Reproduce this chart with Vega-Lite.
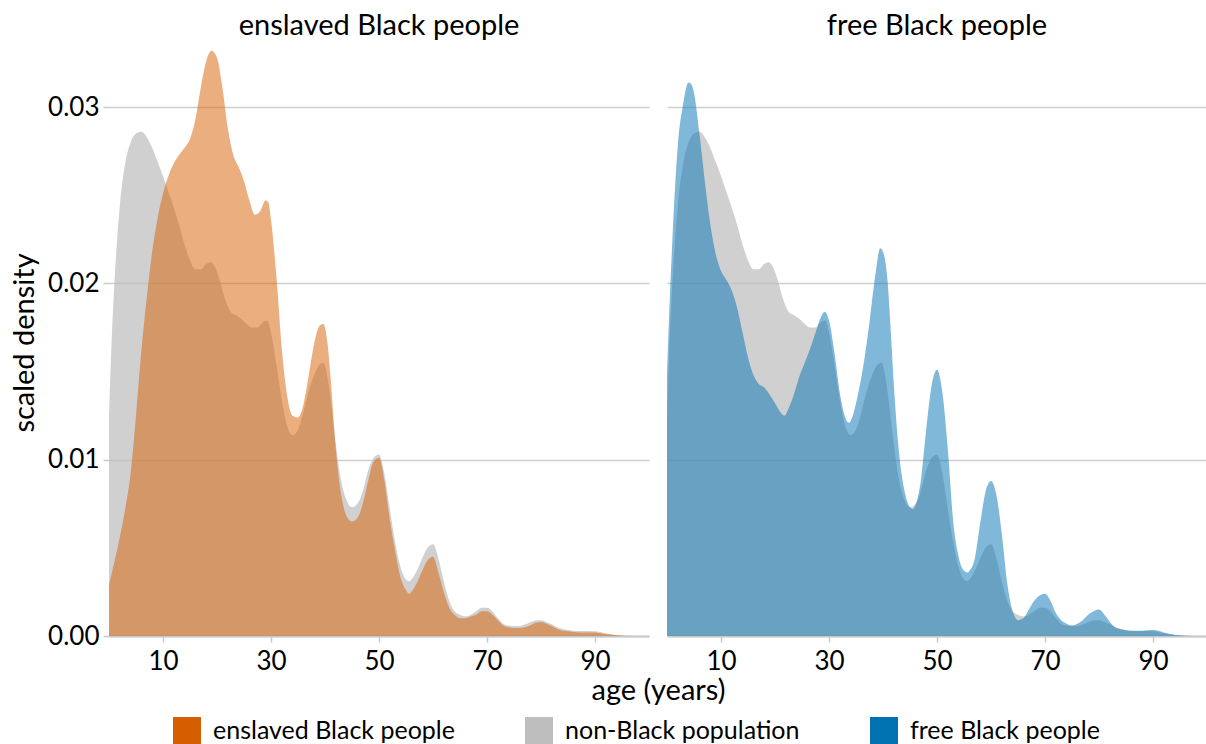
{
  "$schema": "https://vega.github.io/schema/vega-lite/v6.json",
  "background": "white",
  "padding": {"left": 10, "top": 12, "right": 0, "bottom": 0},
  "bounds": "flush",
  "datasets": {
    "nonBlack": [
      {"age": 0, "density": 0.0125}, {"age": 0.5, "density": 0.0168}, {"age": 1, "density": 0.02}, {"age": 1.5, "density": 0.0225},
      {"age": 2, "density": 0.0244}, {"age": 3, "density": 0.0268}, {"age": 4, "density": 0.028}, {"age": 5, "density": 0.0285},
      {"age": 6, "density": 0.0286}, {"age": 7, "density": 0.0283}, {"age": 8, "density": 0.0277}, {"age": 9, "density": 0.0269},
      {"age": 10, "density": 0.0261}, {"age": 11, "density": 0.0252}, {"age": 12, "density": 0.0243}, {"age": 13, "density": 0.0233},
      {"age": 14, "density": 0.0222}, {"age": 15, "density": 0.0213}, {"age": 16, "density": 0.0208}, {"age": 17, "density": 0.0208},
      {"age": 18, "density": 0.0211}, {"age": 18.8, "density": 0.0212}, {"age": 19.5, "density": 0.021}, {"age": 20.5, "density": 0.0202},
      {"age": 21.5, "density": 0.0191}, {"age": 22.5, "density": 0.0184}, {"age": 23.5, "density": 0.0182}, {"age": 24.5, "density": 0.018},
      {"age": 25.5, "density": 0.0177}, {"age": 26.5, "density": 0.0175}, {"age": 27.5, "density": 0.0175}, {"age": 28.5, "density": 0.0178},
      {"age": 29.3, "density": 0.0179}, {"age": 30, "density": 0.0172}, {"age": 31, "density": 0.0154}, {"age": 32, "density": 0.0134},
      {"age": 33, "density": 0.0119}, {"age": 34, "density": 0.0114}, {"age": 35, "density": 0.0117}, {"age": 36, "density": 0.0127},
      {"age": 37, "density": 0.0139}, {"age": 38, "density": 0.0148}, {"age": 39, "density": 0.0154}, {"age": 39.7, "density": 0.0155},
      {"age": 40.5, "density": 0.0146}, {"age": 41, "density": 0.0135}, {"age": 42, "density": 0.0109}, {"age": 43, "density": 0.0088},
      {"age": 44, "density": 0.0077}, {"age": 45, "density": 0.0073}, {"age": 46, "density": 0.0075}, {"age": 47, "density": 0.0082},
      {"age": 48, "density": 0.0094}, {"age": 49, "density": 0.0101}, {"age": 50, "density": 0.0103}, {"age": 51, "density": 0.0092},
      {"age": 52, "density": 0.0072}, {"age": 53, "density": 0.0053}, {"age": 54, "density": 0.0039}, {"age": 55, "density": 0.0032},
      {"age": 55.6, "density": 0.0031}, {"age": 56, "density": 0.0032}, {"age": 57, "density": 0.0037}, {"age": 58, "density": 0.0044},
      {"age": 59, "density": 0.005}, {"age": 60, "density": 0.0052}, {"age": 61, "density": 0.0044}, {"age": 62, "density": 0.0031},
      {"age": 63, "density": 0.002}, {"age": 64, "density": 0.0014}, {"age": 65, "density": 0.0012}, {"age": 66, "density": 0.0011},
      {"age": 67, "density": 0.0012}, {"age": 68, "density": 0.0014}, {"age": 69, "density": 0.0016}, {"age": 70, "density": 0.0016},
      {"age": 71, "density": 0.0014}, {"age": 72, "density": 0.001}, {"age": 73, "density": 0.0007}, {"age": 74, "density": 0.0006},
      {"age": 75, "density": 0.00057}, {"age": 76, "density": 0.00057}, {"age": 77, "density": 0.00065}, {"age": 78, "density": 0.00078},
      {"age": 79, "density": 0.00088}, {"age": 80, "density": 0.0009}, {"age": 81, "density": 0.0008}, {"age": 82, "density": 0.00066},
      {"age": 83, "density": 0.0005}, {"age": 84, "density": 0.0004}, {"age": 85, "density": 0.00034}, {"age": 87, "density": 0.00028},
      {"age": 90, "density": 0.00027}, {"age": 92, "density": 0.00015}, {"age": 94, "density": 0.00006}, {"age": 96, "density": 0.00002},
      {"age": 98, "density": 0}, {"age": 100, "density": 0}
    ],
    "enslaved": [
      {"age": 0, "density": 0.0029}, {"age": 1, "density": 0.0042}, {"age": 2, "density": 0.0056}, {"age": 3, "density": 0.0072},
      {"age": 4, "density": 0.0092}, {"age": 5, "density": 0.0125}, {"age": 6, "density": 0.0162}, {"age": 7, "density": 0.0192},
      {"age": 8, "density": 0.0218}, {"age": 9, "density": 0.0237}, {"age": 10, "density": 0.0251}, {"age": 11, "density": 0.0261},
      {"age": 12, "density": 0.0268}, {"age": 13, "density": 0.0273}, {"age": 14, "density": 0.0277}, {"age": 15, "density": 0.0282},
      {"age": 16, "density": 0.0293}, {"age": 17, "density": 0.0311}, {"age": 18, "density": 0.0326}, {"age": 19, "density": 0.0332},
      {"age": 20, "density": 0.0328}, {"age": 21, "density": 0.0311}, {"age": 22, "density": 0.0288}, {"age": 23, "density": 0.0273},
      {"age": 24, "density": 0.0266}, {"age": 25, "density": 0.0258}, {"age": 26, "density": 0.0247}, {"age": 27, "density": 0.0239},
      {"age": 28, "density": 0.0241}, {"age": 29, "density": 0.0247}, {"age": 29.5, "density": 0.0246}, {"age": 30, "density": 0.0236},
      {"age": 31, "density": 0.0204}, {"age": 32, "density": 0.0163}, {"age": 33, "density": 0.0136}, {"age": 34, "density": 0.0125},
      {"age": 35, "density": 0.0124}, {"age": 36, "density": 0.0131}, {"age": 37, "density": 0.0148}, {"age": 38, "density": 0.0166},
      {"age": 39, "density": 0.0176}, {"age": 39.7, "density": 0.0177}, {"age": 40.5, "density": 0.0165}, {"age": 41, "density": 0.0148},
      {"age": 42, "density": 0.0106}, {"age": 43, "density": 0.008}, {"age": 44, "density": 0.0068}, {"age": 45, "density": 0.0065},
      {"age": 46, "density": 0.0067}, {"age": 47, "density": 0.0075}, {"age": 48, "density": 0.0088}, {"age": 49, "density": 0.0099},
      {"age": 50, "density": 0.0101}, {"age": 51, "density": 0.0088}, {"age": 52, "density": 0.0066}, {"age": 53, "density": 0.0048},
      {"age": 54, "density": 0.0033}, {"age": 55, "density": 0.0026}, {"age": 55.6, "density": 0.0024}, {"age": 56, "density": 0.0025},
      {"age": 57, "density": 0.003}, {"age": 58, "density": 0.0037}, {"age": 59, "density": 0.0043}, {"age": 60, "density": 0.0045},
      {"age": 61, "density": 0.0036}, {"age": 62, "density": 0.0025}, {"age": 63, "density": 0.0016}, {"age": 64, "density": 0.0012},
      {"age": 65, "density": 0.001}, {"age": 66, "density": 0.001}, {"age": 67, "density": 0.0011}, {"age": 68, "density": 0.0012},
      {"age": 69, "density": 0.0014}, {"age": 70, "density": 0.0014}, {"age": 71, "density": 0.0012}, {"age": 72, "density": 0.0009},
      {"age": 73, "density": 0.0006}, {"age": 74, "density": 0.0005}, {"age": 75, "density": 0.00045}, {"age": 76, "density": 0.00045},
      {"age": 77, "density": 0.0005}, {"age": 78, "density": 0.0006}, {"age": 79, "density": 0.00075}, {"age": 80, "density": 0.0008},
      {"age": 81, "density": 0.0007}, {"age": 82, "density": 0.00055}, {"age": 83, "density": 0.0004}, {"age": 84, "density": 0.0003},
      {"age": 85, "density": 0.00027}, {"age": 87, "density": 0.0002}, {"age": 90, "density": 0.0002}, {"age": 92, "density": 0.0001},
      {"age": 94, "density": 0.00004}, {"age": 96, "density": 0}, {"age": 100, "density": 0}
    ],
    "free": [
      {"age": 0, "density": 0.0148}, {"age": 0.5, "density": 0.019}, {"age": 1, "density": 0.0225}, {"age": 1.5, "density": 0.0255},
      {"age": 2, "density": 0.0278}, {"age": 3, "density": 0.0302}, {"age": 4, "density": 0.0314}, {"age": 4.5, "density": 0.0313},
      {"age": 5, "density": 0.0308}, {"age": 6, "density": 0.0285}, {"age": 7, "density": 0.0258}, {"age": 8, "density": 0.0234},
      {"age": 9, "density": 0.0217}, {"age": 10, "density": 0.0207}, {"age": 11, "density": 0.0202}, {"age": 12, "density": 0.0196},
      {"age": 13, "density": 0.0186}, {"age": 14, "density": 0.0172}, {"age": 15, "density": 0.0158}, {"age": 16, "density": 0.0148},
      {"age": 17, "density": 0.0143}, {"age": 18, "density": 0.0141}, {"age": 19, "density": 0.0137}, {"age": 20, "density": 0.0132},
      {"age": 21, "density": 0.0127}, {"age": 21.8, "density": 0.0125}, {"age": 22.5, "density": 0.0129}, {"age": 23.5, "density": 0.0137},
      {"age": 24.5, "density": 0.0147}, {"age": 25.5, "density": 0.0155}, {"age": 26.5, "density": 0.0163}, {"age": 27.5, "density": 0.0172},
      {"age": 28.5, "density": 0.0181}, {"age": 29.2, "density": 0.0184}, {"age": 30, "density": 0.0179}, {"age": 31, "density": 0.0161},
      {"age": 32, "density": 0.0138}, {"age": 33, "density": 0.0124}, {"age": 33.7, "density": 0.0121}, {"age": 34.5, "density": 0.0126},
      {"age": 35.5, "density": 0.0139}, {"age": 36.5, "density": 0.0156}, {"age": 37.5, "density": 0.0178}, {"age": 38.5, "density": 0.0203},
      {"age": 39.5, "density": 0.022}, {"age": 40, "density": 0.0218}, {"age": 40.8, "density": 0.0203}, {"age": 41.5, "density": 0.017},
      {"age": 42, "density": 0.0143}, {"age": 43, "density": 0.0103}, {"age": 44, "density": 0.0082}, {"age": 45, "density": 0.0073},
      {"age": 45.5, "density": 0.0072}, {"age": 46, "density": 0.0074}, {"age": 47, "density": 0.0088}, {"age": 48, "density": 0.0117},
      {"age": 49, "density": 0.0142}, {"age": 50, "density": 0.0151}, {"age": 51, "density": 0.0138}, {"age": 52, "density": 0.0106},
      {"age": 53, "density": 0.0065}, {"age": 54, "density": 0.0045}, {"age": 55, "density": 0.0037}, {"age": 55.7, "density": 0.0036},
      {"age": 56, "density": 0.0037}, {"age": 57, "density": 0.0044}, {"age": 58, "density": 0.0064}, {"age": 59, "density": 0.0082},
      {"age": 60, "density": 0.0088}, {"age": 61, "density": 0.008}, {"age": 62, "density": 0.0058}, {"age": 63, "density": 0.003},
      {"age": 64, "density": 0.0014}, {"age": 65, "density": 0.0009}, {"age": 66, "density": 0.001}, {"age": 67, "density": 0.0015},
      {"age": 68, "density": 0.002}, {"age": 69, "density": 0.0023}, {"age": 70, "density": 0.0024}, {"age": 71, "density": 0.002},
      {"age": 72, "density": 0.0013}, {"age": 73, "density": 0.0009}, {"age": 74, "density": 0.0007}, {"age": 75, "density": 0.0006},
      {"age": 76, "density": 0.0007}, {"age": 77, "density": 0.0009}, {"age": 78, "density": 0.0012}, {"age": 79, "density": 0.0014},
      {"age": 80, "density": 0.0015}, {"age": 81, "density": 0.0012}, {"age": 82, "density": 0.0008}, {"age": 83, "density": 0.0005},
      {"age": 84, "density": 0.0004}, {"age": 86, "density": 0.0003}, {"age": 88, "density": 0.0003}, {"age": 90, "density": 0.00034},
      {"age": 91, "density": 0.0003}, {"age": 92, "density": 0.0002}, {"age": 94, "density": 0.00007}, {"age": 96, "density": 0.00002},
      {"age": 98, "density": 0}, {"age": 100, "density": 0}
    ]
  },
  "config": {
    "font": "Lato",
    "view": {"stroke": null},
    "concat": {"spacing": 18},
    "title": {"fontSize": 29, "fontWeight": "normal", "color": "#000000", "font": "Lato"},
    "axis": {
      "labelFont": "Lato",
      "labelFontSize": 26,
      "labelColor": "#000000",
      "titleFont": "Lato",
      "titleFontSize": 29,
      "titleFontWeight": "normal",
      "titleColor": "#000000",
      "tickColor": "#c8c8c8",
      "tickWidth": 1.5,
      "tickSize": 6,
      "gridColor": "#cfcfcf",
      "gridWidth": 1.6
    },
    "axisX": {"domain": true, "domainColor": "#c8c8c8", "domainWidth": 2, "grid": false, "labelPadding": 6, "titlePadding": 2},
    "axisY": {"domain": false, "labelPadding": 4, "titlePadding": 8},
    "legend": {
      "orient": "none",
      "legendX": 64,
      "legendY": 668,
      "direction": "horizontal",
      "title": null,
      "symbolType": "square",
      "symbolSize": 784,
      "symbolOpacity": 1,
      "symbolStrokeWidth": 0,
      "labelFont": "Lato",
      "labelFontSize": 25,
      "labelColor": "#000000",
      "labelOffset": 12,
      "labelLimit": 500,
      "columnPadding": 70
    }
  },
  "resolve": {"scale": {"color": "shared"}},
  "hconcat": [
    {
      "title": {"text": "enslaved Black people", "anchor": "middle", "offset": 8},
      "width": 540,
      "height": 587,
      "layer": [
        {
          "data": {"name": "nonBlack"},
          "mark": {"type": "area", "interpolate": "monotone", "opacity": 0.72},
          "encoding": {
            "x": {"field": "age", "type": "quantitative", "scale": {"domain": [0, 100], "nice": false}, "axis": {"values": [10, 30, 50, 70, 90], "title": "age (years)", "titleX": 549, "titleAnchor": "middle", "titleAlign": "center"}},
            "y": {"field": "density", "type": "quantitative", "scale": {"domain": [0, 0.0333], "nice": false}, "axis": {"values": [0, 0.01, 0.02, 0.03], "format": ".2f", "title": "scaled density"}},
            "color": {"datum": "non-Black population", "type": "nominal", "scale": {"domain": ["enslaved Black people", "non-Black population", "free Black people"], "range": ["#D55E00", "#BEBEBE", "#0072B2"]}}
          }
        },
        {
          "data": {"name": "enslaved"},
          "mark": {"type": "area", "interpolate": "monotone", "opacity": 0.5},
          "encoding": {
            "x": {"field": "age", "type": "quantitative"},
            "y": {"field": "density", "type": "quantitative"},
            "color": {"datum": "enslaved Black people", "type": "nominal"}
          }
        }
      ]
    },
    {
      "title": {"text": "free Black people", "anchor": "middle", "offset": 8},
      "width": 540,
      "height": 587,
      "layer": [
        {
          "data": {"name": "nonBlack"},
          "mark": {"type": "area", "interpolate": "monotone", "opacity": 0.72},
          "encoding": {
            "x": {"field": "age", "type": "quantitative", "scale": {"domain": [0, 100], "nice": false}, "axis": {"values": [10, 30, 50, 70, 90], "title": null}},
            "y": {"field": "density", "type": "quantitative", "scale": {"domain": [0, 0.0333], "nice": false}, "axis": {"values": [0, 0.01, 0.02, 0.03], "labels": false, "ticks": false, "title": null}},
            "color": {"datum": "non-Black population", "type": "nominal"}
          }
        },
        {
          "data": {"name": "free"},
          "mark": {"type": "area", "interpolate": "monotone", "opacity": 0.5},
          "encoding": {
            "x": {"field": "age", "type": "quantitative"},
            "y": {"field": "density", "type": "quantitative"},
            "color": {"datum": "free Black people", "type": "nominal"}
          }
        }
      ]
    }
  ]
}
